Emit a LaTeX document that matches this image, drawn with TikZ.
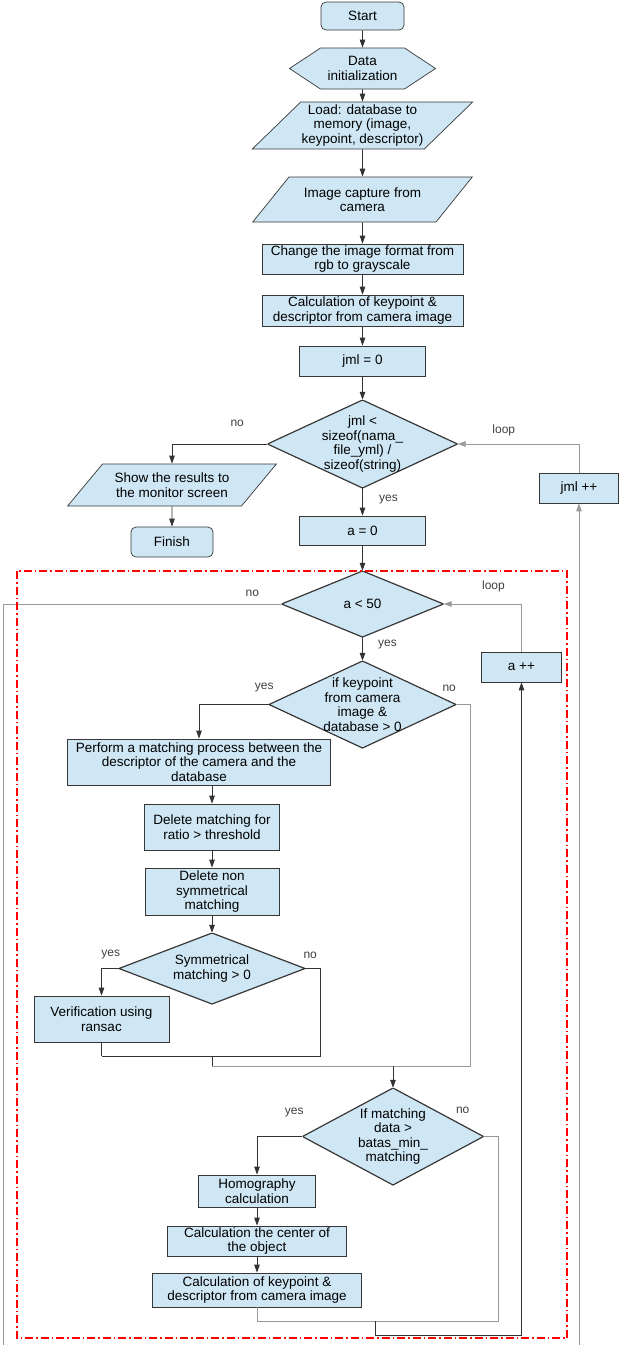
\documentclass[tikz,border=0pt]{standalone}
\usepackage{fontspec}
\setmainfont{Liberation Sans}
\usepackage{tikz}
\usetikzlibrary{arrows.meta}
\usetikzlibrary{shapes.geometric, shapes.symbols, positioning}
\definecolor{boxblue}{RGB}{207,231,245}
\definecolor{boxline}{RGB}{55,55,55}
\tikzstyle{arrow} = [line width=0.8pt, draw=black!80, -{Triangle[length=8pt, width=5.5pt]}]
\tikzstyle{flowline} = [line width=0.8pt, draw=black!40]
\tikzstyle{joinline} = [line width=0.8pt, draw=black!80]
\tikzstyle{process} = [rectangle, draw=boxline, fill=boxblue, line width=0.7pt, minimum width=3cm, minimum height=30pt, inner sep=1pt, align=center, font=\fontsize{13.5}{14.5}\selectfont]
\tikzstyle{terminal} = [process, rounded corners=5pt, minimum height=28pt]
\tikzstyle{io} = [trapezium, trapezium left angle=42, trapezium right angle=138, trapezium stretches=true, draw=boxline, fill=boxblue, line width=0.7pt, minimum height=45pt, inner sep=1pt, align=center, font=\fontsize{13.5}{14.5}\selectfont]
\tikzstyle{prep} = [shape=signal, signal to=west and east, signal pointer angle=67, draw=boxline, fill=boxblue, line width=0.7pt, minimum width=146pt, minimum height=41pt, inner sep=1pt, align=center, font=\fontsize{13.5}{14.5}\selectfont]
\tikzstyle{lbl} = [inner sep=0pt, text=black!75, font=\fontsize{12}{14}\selectfont]
\newcommand\ppbb{path picture bounding box}
\tikzset{
	decision/.style = {rectangle, inner sep=0pt, align=center,
		font=\fontsize{13.5}{14.5}\selectfont,
		path picture={\filldraw[draw=boxline, fill=boxblue, line width=1.2pt]
			(\ppbb.north) -- (\ppbb.east) -- (\ppbb.south) -- (\ppbb.west) -- cycle;
		},% end of path picture
	}
}
\tikzset{
loopframe/.style={draw=red, line width=1.4pt, dash pattern=on 8pt off 3pt on 1.5pt off 3pt}
}

\begin{document}
\begin{tikzpicture}[node distance=52pt]
\useasboundingbox (0,0) rectangle (621pt,-1345pt);
%----------------------------------------------------------------------------
% Placement of flowchart nodes
\node (start) [terminal, minimum width=83pt] at (362.5pt,-16pt) {Start};
\node (dataInit) [prep, below of = start, node distance=52.5pt] {Data\\initialization};
\node (loadDb) [io, below of = dataInit, node distance=57pt, minimum width=220pt, minimum height=47pt] {Load: database to\\memory (image,\\keypoint, descriptor)};
\node (capture) [io, below of = loadDb, node distance=74pt, minimum width=220pt] {Image capture from\\camera};
\node (toGray) [process, below of = capture, node distance=59.5pt, minimum width=201pt] {Change the image format from\\rgb to grayscale};
\node (calcKp) [process, below of = toGray, node distance=51.5pt, minimum width=201pt, minimum height=31pt] {Calculation of keypoint \&\\descriptor from camera image};
\node (jmlZero) [process, below of = calcKp, node distance=50.5pt, minimum width=126pt] {jml = 0};
\node (jmlCheck) [decision, below of = jmlZero, node distance=83pt, minimum width=190pt, minimum height=88pt] {jml <\\sizeof(nama\_\\file\_yml) /\\sizeof(string)};

\node (showRes) [io, below of = jmlCheck, node distance=41pt, xshift=-190.5pt, minimum width=209pt, minimum height=42pt] {Show the results to\\the monitor screen};
\node (finish) [terminal, below of = showRes, node distance=57pt, minimum width=82pt, minimum height=30pt] {Finish};

\node (aZero) [process, below of = jmlCheck, node distance=86.5pt, minimum width=126pt, minimum height=29pt] {a = 0};
\node (jmlInc) [process, right of = jmlCheck, node distance=216.5pt, yshift=-44pt, minimum width=79pt] {jml ++};

\node (aCheck) [decision, below of = aZero, node distance=73.5pt, minimum width=162pt, minimum height=66pt] {a < 50};
\node (aInc) [process, right of = aCheck, node distance=159pt, yshift=-63pt, minimum width=80pt] {a ++};
\node (kpCheck) [decision, below of = aCheck, node distance=100.5pt, minimum width=187pt, minimum height=87pt] {if keypoint\\from camera\\image \&\\database > 0};

\node (matchProc) [process, below of = kpCheck, node distance=57.5pt, xshift=-163.5pt, minimum width=263pt, minimum height=46pt] {Perform a matching process between the\\descriptor of the camera and the\\database};
\node (delRatio) [process, below of = matchProc, node distance=65pt, xshift=13pt, minimum width=135pt, minimum height=46pt] {Delete matching for\\ratio > threshold};
\node (delNonSym) [process, below of = delRatio, node distance=64.5pt, minimum width=134pt, minimum height=47pt] {Delete non\\symmetrical\\matching};
\node (symCheck) [decision, below of = delNonSym, node distance=77pt, minimum width=186pt, minimum height=71pt] {Symmetrical\\matching > 0};
\node (ransac) [process, below of = symCheck, node distance=50.5pt, xshift=-110.5pt, minimum width=135pt, minimum height=46pt] {Verification using\\ransac};

\node (matchCheck) [decision, below of = kpCheck, node distance=432pt, xshift=30.5pt, minimum width=181pt, minimum height=97pt] {If matching\\data >\\batas\_min\_\\matching};
\node (homog) [process, below of = matchCheck, node distance=54.5pt, xshift=-136pt, minimum width=117pt, minimum height=32pt] {Homography\\calculation};
\node (calcCenter) [process, below of = homog, node distance=50pt, minimum width=179pt] {Calculation the center of\\the object};
\node (calcKp2) [process, below of = calcCenter, node distance=49pt, minimum width=209pt, minimum height=34pt] {Calculation of keypoint \&\\descriptor from camera image};

%----------------------------------------------------------------------------
% Join points
\coordinate (symJoin) at ([yshift=-14pt]ransac.south);
\coordinate (kpJoin) at ([yshift=-10pt]symJoin -| matchCheck.north);
\coordinate (matchJoin) at ([yshift=-14pt]calcKp2.south);
\coordinate (aJoin) at ([xshift=118pt]matchJoin);
\coordinate (exitL) at (3pt,-1345pt);
\coordinate (exitR) at (jmlInc.south |- exitL);

%----------------------------------------------------------------------------
% Lines
\draw [arrow] (start) -- (dataInit);
\draw [arrow] (dataInit) -- (loadDb);
\draw [arrow] (loadDb) -- (capture);
\draw [arrow] (capture) -- (toGray);
\draw [arrow] (toGray) -- (calcKp);
\draw [arrow] (calcKp) -- (jmlZero);
\draw [arrow] (jmlZero) -- (jmlCheck.north);
\draw [arrow] (showRes) -- (finish);
\draw [arrow] (aZero) -- (aCheck.north);
\draw [arrow] (matchProc.south -| delRatio.north) -- (delRatio.north);
\draw [arrow] (delRatio) -- (delNonSym);
\draw [arrow] (delNonSym) -- (symCheck.north);
\draw [arrow] (homog) -- (calcCenter);
\draw [arrow] (calcCenter) -- (calcKp2);

%----------------------------------------------------------------------------
% Draw Decision Lines
\draw [arrow] (jmlCheck.west) -| node[pos=0.158, yshift=21pt, lbl] {no} (showRes.north);
\draw [arrow] (jmlCheck.south) -- node[pos=0.4, xshift=26pt, lbl] {yes} (aZero.north);
\draw [arrow, draw=black!40] (jmlInc.north) |- node[pos=0.81, yshift=14pt, lbl] {loop} (jmlCheck.east);
\draw [arrow, draw=black!40] (exitR) -- (jmlInc.south);

\draw [flowline] (aCheck.west) -| node[pos=0.052, yshift=11pt, lbl] {no} (exitL);
\draw [arrow] (aCheck.south) -- node[pos=0.33, xshift=25pt, lbl] {yes} (kpCheck.north);
\draw [arrow, draw=black!40] (aInc.north) |- node[pos=0.68, yshift=18pt, lbl] {loop} (aCheck.east);

\draw [arrow] (kpCheck.west) node[xshift=-4.5pt, yshift=16.5pt, lbl] {yes} -| (matchProc.north);
\draw [flowline] (kpCheck.east) node[xshift=-7pt, yshift=16.5pt, lbl] {no} -- ++(14pt,0) |- (kpJoin -| symCheck.south);

\draw [arrow] (symCheck.west) node[xshift=-8pt, yshift=13.5pt, lbl] {yes} -| (ransac.north);
\draw [joinline] (symCheck.east) node[xshift=5pt, yshift=13.5pt, lbl] {no} -- ++(15pt,0) |- (symJoin);
\draw [joinline] (ransac.south) -- (symJoin);
\draw [joinline] (symJoin -| symCheck.south) -- (kpJoin -| symCheck.south);
\draw [arrow] (kpJoin) -- (matchCheck.north);

\draw [arrow] (matchCheck.west) node[xshift=-8pt, yshift=23.5pt, lbl] {yes} -| (homog.north);
\draw [flowline] (matchCheck.east) node[xshift=-21pt, yshift=26.5pt, lbl] {no} -- ++(15pt,0) |- (matchJoin);
\draw [flowline] (calcKp2.south) -- (matchJoin);
\draw [arrow] (aJoin) -- ++(0,-14pt) -| (aInc.south);

%----------------------------------------------------------------------------
% Inner loop frame
\draw [loopframe] (17pt,-571pt) rectangle (567pt,-1338pt);
\end{tikzpicture}
\end{document}
